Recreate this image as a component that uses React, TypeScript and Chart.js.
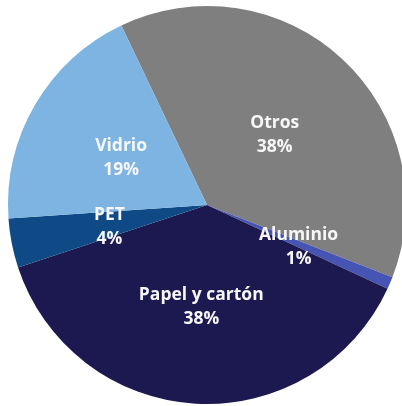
import React, { useEffect, useRef } from "react";
import { Chart, registerables } from "chart.js";

Chart.register(...registerables);

const categories = ["Otros", "Aluminio", "Papel y cartón", "PET", "Vidrio"];
const values = [38, 1, 38, 4, 19];
const colors = ["#7f7f7f", "#4655b3", "#1c1850", "#0f4a86", "#7db4e2"];

const labelPlugin = {
  id: "sliceLabels",
  afterDatasetsDraw(chart: any) {
    const ctx = chart.ctx;
    const meta = chart.getDatasetMeta(0);
    const data = chart.data.datasets[0].data as number[];
    const total = data.reduce((a, b) => a + b, 0);
    ctx.save();
    ctx.fillStyle = "#f7f7f7";
    ctx.font = "bold 17.5px 'Open Sans', sans-serif";
    ctx.textAlign = "center";
    ctx.textBaseline = "middle";
    meta.data.forEach((arc: any, i: number) => {
      const p = arc.tooltipPosition();
      const pct = Math.round((data[i] / total) * 100) + "%";
      ctx.fillText(chart.data.labels[i], p.x, p.y - 9);
      ctx.fillText(pct, p.x, p.y + 15);
    });
    ctx.restore();
  },
};

export default function App() {
  const ref = useRef<HTMLCanvasElement>(null);
  useEffect(() => {
    document.body.style.margin = "0";
    const chart = new Chart(ref.current!, {
      type: "pie",
      data: {
        labels: categories,
        datasets: [
          {
            data: values,
            backgroundColor: colors,
            borderWidth: 0,
          },
        ],
      },
      options: {
        responsive: false,
        animation: false,
        rotation: -25.5,
        layout: { padding: { left: 8, right: 14, top: 6, bottom: 2 } },
        plugins: {
          legend: { display: false },
          tooltip: { enabled: false },
        },
      },
      plugins: [labelPlugin],
    });
    return () => chart.destroy();
  }, []);
  return (
    <div
      style={{
        position: "absolute",
        left: 0,
        top: 0,
        width: 402,
        height: 406,
        overflow: "hidden",
        background: "#fff",
      }}
    >
      <canvas ref={ref} width={420} height={406} />
    </div>
  );
}
